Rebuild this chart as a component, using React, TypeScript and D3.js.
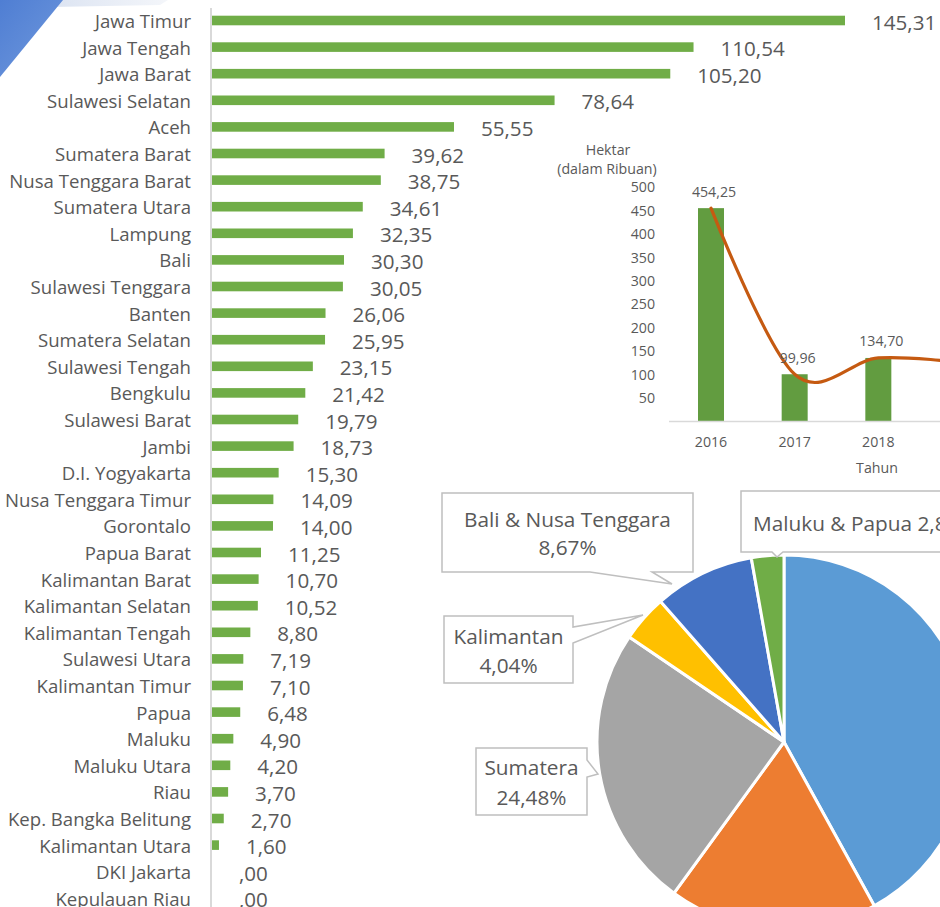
import React from "react";
import * as d3 from "d3";

const provinces = [
  "Jawa Timur", "Jawa Tengah", "Jawa Barat", "Sulawesi Selatan", "Aceh",
  "Sumatera Barat", "Nusa Tenggara Barat", "Sumatera Utara", "Lampung", "Bali",
  "Sulawesi Tenggara", "Banten", "Sumatera Selatan", "Sulawesi Tengah", "Bengkulu",
  "Sulawesi Barat", "Jambi", "D.I. Yogyakarta", "Nusa Tenggara Timur", "Gorontalo",
  "Papua Barat", "Kalimantan Barat", "Kalimantan Selatan", "Kalimantan Tengah", "Sulawesi Utara",
  "Kalimantan Timur", "Papua", "Maluku", "Maluku Utara", "Riau",
  "Kep. Bangka Belitung", "Kalimantan Utara", "DKI Jakarta", "Kepulauan Riau",
];
const provinceValues = [
  145.31, 110.54, 105.2, 78.64, 55.55,
  39.62, 38.75, 34.61, 32.35, 30.3,
  30.05, 26.06, 25.95, 23.15, 21.42,
  19.79, 18.73, 15.3, 14.09, 14.0,
  11.25, 10.7, 10.52, 8.8, 7.19,
  7.1, 6.48, 4.9, 4.2, 3.7,
  2.7, 1.6, 0, 0,
];

const years = ["2016", "2017", "2018", "2019"];
const yearValues = [454.25, 99.96, 134.7, 125];
const insetTicks = [50, 100, 150, 200, 250, 300, 350, 400, 450, 500];

const regions = ["Jawa", "Sulawesi", "Sumatera", "Kalimantan", "Bali & Nusa Tenggara", "Maluku & Papua"];
const regionShares = [41.98, 18.03, 24.48, 4.04, 8.67, 2.8];
const regionColors = ["#5B9BD5", "#ED7D31", "#A5A5A5", "#FFC000", "#4472C4", "#70AD47"];

const FONT = "'Open Sans', 'DejaVu Sans', sans-serif";
const TEXT = "#595959";
const W = 940;

const fmt = (v: number) => {
  const s = v.toFixed(2).replace(".", ",");
  return s.startsWith("0,") ? s.slice(1) : s;
};

export default function App() {
  // main bar chart
  const x = d3.scaleLinear().domain([0, 145.31]).range([212, 845]);
  const y = d3.scalePoint<string>().domain(provinces).range([20.5, 898.3]);
  const barH = 9.6;

  // inset chart
  const ix = d3.scalePoint<string>().domain(years).range([711, 962]);
  const iy = d3.scaleLinear().domain([0, 500]).range([421.1, 186.7]);
  const iBarW = 26;
  const linePath = d3
    .line<number>()
    .x((_, i) => ix(years[i])!)
    .y((d) => iy(d))
    .curve(d3.curveCardinal.tension(0))(yearValues)!;
  const visibleYears = years.filter((yr) => ix(yr)! < W);

  // pie
  const cx = 784, cy = 742, r = 187;
  const arcs = d3.pie<number>().sort(null).value((d) => d)(regionShares);
  const arcGen = d3.arc<d3.PieArcDatum<number>>().innerRadius(0).outerRadius(r);

  const pct = (i: number) => regionShares[i].toFixed(2).replace(".", ",") + "%";

  const calloutStyle = { fill: "#fff", stroke: "#BFBFBF", strokeWidth: 1.5 };
  const pieFs = 20.8;
  const insetFs = 14.2;

  return (
    <div style={{ position: "absolute", left: 0, top: 0 }}>
      <svg width={W} height={907} style={{ display: "block", fontFamily: FONT }}>
        <defs>
          <linearGradient id="blueShape" x1="0" y1="0" x2="1" y2="1">
            <stop offset="0" stopColor="#4F7ED3" />
            <stop offset="1" stopColor="#7099DD" />
          </linearGradient>
          <linearGradient id="lightBand" x1="0" y1="0" x2="1" y2="0">
            <stop offset="0" stopColor="#DCE4F2" />
            <stop offset="1" stopColor="#F4F6FA" />
          </linearGradient>
        </defs>
        <rect x={0} y={0} width={W} height={907} fill="#fff" />

        {/* decorative corner */}
        <polygon points="56,0 168,0 160,5 52,7" fill="url(#lightBand)" />
        <polygon points="0,0 63,0 0,77" fill="url(#blueShape)" />

        {/* main bar chart */}
        <line x1={211} x2={211} y1={8} y2={907} stroke="#D9D9D9" strokeWidth={2} />
        {provinces.map((p, i) => {
          const cyR = y(p)!;
          const v = provinceValues[i];
          return (
            <g key={p}>
              <text x={191} y={cyR} textAnchor="end" dominantBaseline="central" fontSize={18.6} fill={TEXT}>
                {p}
              </text>
              {v > 0 && (
                <rect x={x(0)} y={cyR - barH / 2} width={x(v) - x(0)} height={barH} fill="#70AD47" />
              )}
              <text x={x(v) + 27} y={cyR + 1} dominantBaseline="central" fontSize={20.6} fill={TEXT}>
                {fmt(v)}
              </text>
            </g>
          );
        })}

        {/* inset chart */}
        <text x={608} y={149} textAnchor="middle" dominantBaseline="central" fontSize={insetFs} fill={TEXT}>
          Hektar
        </text>
        <text x={607} y={168.5} textAnchor="middle" dominantBaseline="central" fontSize={insetFs} fill={TEXT}>
          (dalam Ribuan)
        </text>
        {insetTicks.map((t) => (
          <text key={t} x={655} y={iy(t)} textAnchor="end" dominantBaseline="central" fontSize={insetFs} fill={TEXT}>
            {t}
          </text>
        ))}
        {years.map((yr, i) => (
          <rect
            key={yr}
            x={ix(yr)! - iBarW / 2}
            y={iy(yearValues[i])}
            width={iBarW}
            height={iy(0) - iy(yearValues[i])}
            fill="#629C40"
          />
        ))}
        <line x1={669} x2={W} y1={421.5} y2={421.5} stroke="#D9D9D9" strokeWidth={1.5} />
        {visibleYears.map((yr) => (
          <text key={yr} x={ix(yr)} y={441} textAnchor="middle" dominantBaseline="central" fontSize={insetFs} fill={TEXT}>
            {yr}
          </text>
        ))}
        <text x={877} y={467} textAnchor="middle" dominantBaseline="central" fontSize={insetFs} fill={TEXT}>
          Tahun
        </text>
        <path d={linePath} fill="none" stroke="#C55A11" strokeWidth={3.2} strokeLinecap="round" />
        {visibleYears.map((yr) => {
          const i = years.indexOf(yr);
          return (
            <text
              key={"l" + yr}
              x={ix(yr)! + 3}
              y={iy(yearValues[i]) - 17}
              textAnchor="middle"
              dominantBaseline="central"
              fontSize={insetFs}
              fill={TEXT}
            >
              {fmt(yearValues[i])}
            </text>
          );
        })}

        {/* pie */}
        <g transform={`translate(${cx},${cy})`}>
          {arcs.map((a, i) => (
            <path key={regions[i]} d={arcGen(a)!} fill={regionColors[i]} stroke="#fff" strokeWidth={3} />
          ))}
        </g>

        {/* callouts */}
        <path d="M442,493 H693 V572 H652 L672,584 L590,572 H442 Z" style={calloutStyle} />
        <text x={567.5} y={519} textAnchor="middle" dominantBaseline="central" fontSize={pieFs} fill={TEXT}>
          {regions[4]}
        </text>
        <text x={567.5} y={547} textAnchor="middle" dominantBaseline="central" fontSize={pieFs} fill={TEXT}>
          {pct(4)}
        </text>

        <path d="M741,491 H975 V552 H783 L777,557 L772,552 H741 Z" style={calloutStyle} />
        <text x={753} y={523} dominantBaseline="central" fontSize={pieFs} fill={TEXT}>
          {regions[5] + " " + pct(5)}
        </text>

        <path d="M444,616 H573 V627 L643,615 L573,643 V683 H444 Z" style={calloutStyle} />
        <text x={508.5} y={636} textAnchor="middle" dominantBaseline="central" fontSize={pieFs} fill={TEXT}>
          {regions[3]}
        </text>
        <text x={508.5} y={665} textAnchor="middle" dominantBaseline="central" fontSize={pieFs} fill={TEXT}>
          {pct(3)}
        </text>

        <path d="M476,748 H587 V760 L598,774 L587,777 V815 H476 Z" style={calloutStyle} />
        <text x={531.5} y={767} textAnchor="middle" dominantBaseline="central" fontSize={pieFs} fill={TEXT}>
          {regions[2]}
        </text>
        <text x={531.5} y={797} textAnchor="middle" dominantBaseline="central" fontSize={pieFs} fill={TEXT}>
          {pct(2)}
        </text>
      </svg>
    </div>
  );
}
